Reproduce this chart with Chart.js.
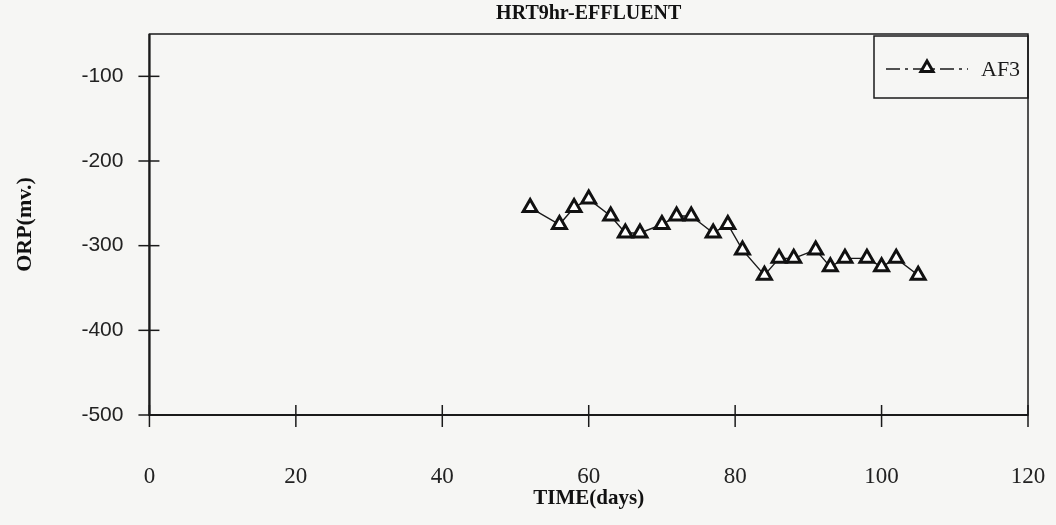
<!DOCTYPE html>
<html>
<head>
<meta charset="utf-8">
<script src="https://cdn.jsdelivr.net/npm/chart.js@4.4.1/dist/chart.umd.min.js"></script>
<style>
  body { margin: 0; background: #f6f6f4; }
  #grafica { display: block; }
</style>
</head>
<body>
<canvas id="grafica" width="1056" height="525"></canvas>
<script>
// datos
const dias = [52, 56, 58, 60, 63, 65, 67, 70, 72, 74, 77, 79, 81, 84, 86, 88, 91, 93, 95, 98, 100, 102, 105];
const orpAF3 = [-255, -275, -255, -245, -265, -285, -285, -275, -265, -265, -285, -275, -305, -335, -315, -315, -305, -325, -315, -315, -325, -315, -335];
const ticksX = [0, 20, 40, 60, 80, 100, 120];
const ticksY = [-500, -400, -300, -200, -100];

const serie = dias.map((d, i) => ({ x: d, y: orpAF3[i] }));

// marco del area y marcas que cruzan los ejes
const marcoPlugin = {
    id: 'marco',
    beforeDatasetsDraw(chart) {
        const { ctx, chartArea: a, scales } = chart;
        ctx.save();
        ctx.strokeStyle = '#1a1a1a';
        ctx.lineWidth = 1.5;
        ctx.strokeRect(a.left, a.top, a.right - a.left, a.bottom - a.top);
        ctx.lineWidth = 2.2;
        ctx.beginPath();
        ctx.moveTo(a.left - 1, a.bottom);
        ctx.lineTo(a.right, a.bottom);
        ctx.moveTo(a.left, a.top);
        ctx.lineTo(a.left, a.bottom + 1);
        ctx.stroke();
        ctx.lineWidth = 1.5;
        ticksY.forEach(v => {
            const y = scales.y.getPixelForValue(v);
            ctx.beginPath();
            ctx.moveTo(a.left - 11, y);
            ctx.lineTo(a.left + 10, y);
            ctx.stroke();
        });
        ticksX.forEach(v => {
            const x = scales.x.getPixelForValue(v);
            ctx.beginPath();
            ctx.moveTo(x, a.bottom - 10);
            ctx.lineTo(x, a.bottom + 12);
            ctx.stroke();
        });
        ctx.restore();
    }
};

// leyenda en caja, esquina superior derecha
const leyendaPlugin = {
    id: 'leyendaCaja',
    afterDraw(chart) {
        const { ctx, chartArea: a } = chart;
        const w = 154, h = 62;
        const x0 = a.right - w, y0 = a.top + 2;
        ctx.save();
        ctx.strokeStyle = '#1a1a1a';
        ctx.lineWidth = 1.5;
        ctx.strokeRect(x0, y0, w, h);
        const ym = y0 + h / 2 + 2;
        ctx.setLineDash([14, 5, 3, 5]);
        ctx.lineWidth = 1.3;
        ctx.beginPath();
        ctx.moveTo(x0 + 12, ym);
        ctx.lineTo(x0 + 94, ym);
        ctx.stroke();
        ctx.setLineDash([]);
        const ds = chart.data.datasets[0];
        ctx.fillStyle = '#ffffff';
        ctx.strokeStyle = '#111111';
        ctx.lineWidth = 3;
        Chart.helpers.drawPoint(ctx, {
            pointStyle: 'triangle', radius: 7, borderWidth: 3, rotation: 0
        }, x0 + 53, ym - 1);
        ctx.fillStyle = '#1a1a1a';
        ctx.font = '22px "Liberation Serif"';
        ctx.textBaseline = 'middle';
        ctx.fillText(ds.label, x0 + 107, ym + 1);
        ctx.restore();
    }
};

new Chart(document.getElementById('grafica'), {
    type: 'line',
    data: {
        datasets: [{
            label: 'AF3',
            data: serie,
            borderColor: '#1a1a1a',
            borderWidth: 1.4,
            backgroundColor: '#ffffff',
            pointStyle: 'triangle',
            pointRadius: 8,
            pointBorderWidth: 3,
            pointBorderColor: '#111111',
            pointBackgroundColor: '#ffffff',
            tension: 0
        }]
    },
    options: {
        responsive: false,
        animation: false,
        layout: { padding: { left: 12, right: 28, top: 0, bottom: 16 } },
        plugins: {
            legend: { display: false },
            tooltip: { enabled: false },
            title: {
                display: true,
                fullSize: false,
                text: 'HRT9hr-EFFLUENT',
                color: '#111',
                font: { family: 'Liberation Serif', size: 20, weight: 'bold' },
                padding: { top: 2, bottom: 8 }
            }
        },
        scales: {
            x: {
                type: 'linear',
                min: 0,
                max: 120,
                afterBuildTicks: s => { s.ticks = ticksX.map(v => ({ value: v })); },
                afterFit: s => { s.paddingLeft = 0; s.paddingRight = 0; s.height = 94; },
                grid: { display: false },
                border: { display: false },
                ticks: {
                    color: '#222',
                    padding: 42,
                    maxRotation: 0,
                    font: { family: 'Liberation Serif', size: 23, lineHeight: 1 }
                },
                title: {
                    display: true,
                    text: 'TIME(days)',
                    color: '#111',
                    font: { family: 'Liberation Serif', size: 21, weight: 'bold', lineHeight: 1 },
                    padding: { top: 1, bottom: 0 }
                }
            },
            y: {
                type: 'linear',
                min: -500,
                max: -50,
                afterBuildTicks: s => { s.ticks = ticksY.map(v => ({ value: v })); },
                grid: { display: false },
                border: { display: false },
                ticks: {
                    color: '#222',
                    padding: 18,
                    font: { family: 'Liberation Sans', size: 21 }
                },
                title: {
                    display: true,
                    text: 'ORP(mv.)',
                    color: '#111',
                    font: { family: 'Liberation Serif', size: 22, weight: 'bold' },
                    padding: { top: 0, bottom: 25 }
                }
            }
        }
    },
    plugins: [marcoPlugin, leyendaPlugin]
});
</script>
</body>
</html>
